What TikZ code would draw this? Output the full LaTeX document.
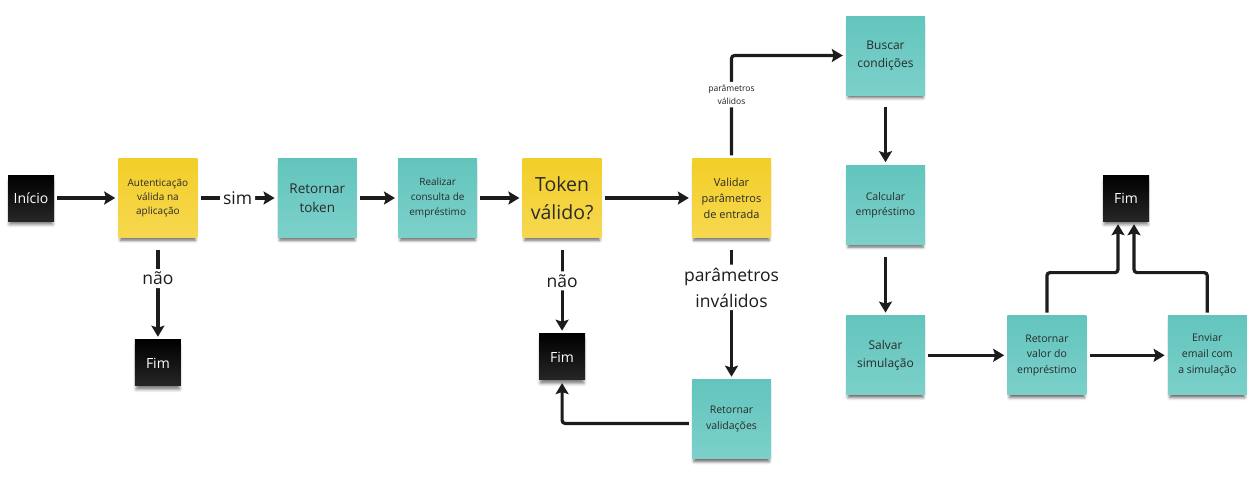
\documentclass[tikz,border=0pt]{standalone}
\usepackage{fontspec}
\setmainfont{Open Sans}
\usetikzlibrary{arrows.meta,positioning,shadows.blur}

\definecolor{noteyellow}{HTML}{F3CE28}
\definecolor{noteyellowlt}{HTML}{F6D850}
\definecolor{noteteal}{HTML}{62C5BD}
\definecolor{notetealt}{HTML}{7CD0CA}
\definecolor{notetext}{HTML}{2A2A2A}
\definecolor{linegray}{HTML}{1C1C1C}

\begin{document}
\begin{tikzpicture}[
x=1pt, y=1pt,
node distance=40pt,
note/.style={
align=center,
minimum width=79pt,
minimum height=79pt,
inner sep=2pt,
text=notetext,
blur shadow={shadow xshift=0pt, shadow yshift=-5pt, shadow scale=0.95,
  shadow blur radius=3pt, shadow opacity=60}
},
yellownote/.style={note, top color=noteyellow, bottom color=noteyellowlt},
tealnote/.style={note, top color=noteteal, bottom color=notetealt},
endnote/.style={
minimum width=46pt,
minimum height=46pt,
inner sep=1pt,
text=white,
top color=black, bottom color=black!85,
font=\fontsize{14}{17}\selectfont,
blur shadow={shadow xshift=0pt, shadow yshift=-5pt, shadow scale=0.95,
  shadow blur radius=3pt, shadow opacity=50}
},
line/.style={-{Stealth[length=11pt, width=13pt, inset=2pt]}, line width=3.2pt,
  draw=linegray, rounded corners=3pt, shorten >=3pt, shorten <=3pt},
down/.style={line, shorten <=12pt},
lbl/.style={fill=white, inner sep=3pt, text=linegray, align=center,
  font=\fontsize{17.5}{26}\selectfont},
smalllbl/.style={lbl, font=\fontsize{8.5}{13}\selectfont}
]
\useasboundingbox (0,0) rectangle (1252,-496);

\node[endnote] (inicio) at (31,-198) {Início};

\node[yellownote, right=64pt of inicio, font=\fontsize{10}{14}\selectfont] (aut)
{Autenticação\\válida na\\aplicação};

\node[endnote, below=102pt of aut] (fimA) {Fim};

\node[tealnote, right=80pt of aut, font=\fontsize{13.5}{19}\selectfont] (retok)
{Retornar\\token};

\node[tealnote, right=41pt of retok, font=\fontsize{10}{15}\selectfont] (consulta)
{Realizar\\consulta de\\empréstimo};

\node[yellownote, right=45pt of consulta, font=\fontsize{19.5}{28}\selectfont] (tokenv)
{Token\\válido?};

\node[endnote, below=96pt of tokenv] (fimB) {Fim};

\node[yellownote, right=90pt of tokenv, font=\fontsize{11}{16}\selectfont] (validar)
{Validar\\parâmetros\\de entrada};

\node[tealnote, below=142pt of validar, font=\fontsize{10.5}{16}\selectfont] (retval)
{Retornar\\validações};

\node[tealnote, font=\fontsize{12}{18}\selectfont] (buscar) at (885.5,-55.5)
{Buscar\\condições};

\node[tealnote, below=70pt of buscar, font=\fontsize{10.5}{15}\selectfont] (calcular)
{Calcular\\empréstimo};

\node[tealnote, below=71pt of calcular, font=\fontsize{12}{18}\selectfont] (salvar)
{Salvar\\simulação};

\node[tealnote, right=82pt of salvar, font=\fontsize{10.5}{15.5}\selectfont] (retvalor)
{Retornar\\valor do\\empréstimo};

\node[tealnote, right=81pt of retvalor, font=\fontsize{10.5}{16}\selectfont] (enviar)
{Enviar\\email com\\a simulação};

\node[endnote] (fimC) at (1126,-198) {Fim};

% arrows
\draw[line] (inicio) -- (aut);
\draw[line] (aut) -- node[lbl]{sim} (retok);
\draw[down] (aut) -- node[lbl, pos=0.4]{não} (fimA);
\draw[line] (retok) -- (consulta);
\draw[line] (consulta) -- (tokenv);
\draw[down] (tokenv) -- node[lbl, pos=0.45]{não} (fimB);
\draw[line] (tokenv) -- (validar);
\draw[line] (validar) |- node[smalllbl, pos=0.31]{parâmetros\\válidos} (buscar);
\draw[down] (validar) -- node[lbl, pos=0.35]{parâmetros\\inválidos} (retval);
\draw[line] ([yshift=-4pt]retval.west) -| (fimB);
\draw[down] (buscar) -- (calcular);
\draw[down] (calcular) -- (salvar);
\draw[line] (salvar) -- (retvalor);
\draw[line] (retvalor) -- (enviar);
\draw[line] (retvalor.north) -- ++(0,43) -| ([xshift=-8pt]fimC.south);
\draw[line] (enviar.north) -- ++(0,43) -| ([xshift=8pt]fimC.south);

\end{tikzpicture}
\end{document}
